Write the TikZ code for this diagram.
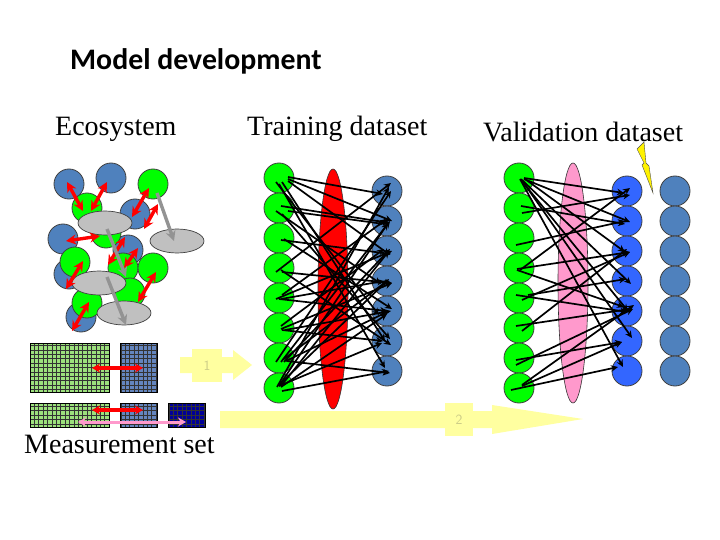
\documentclass[tikz,border=0pt]{standalone}
\usepackage{fontspec}
\setmainfont{Liberation Serif}
\newfontfamily\titlefont{Carlito}
\usetikzlibrary{arrows.meta,shapes.geometric}
\definecolor{cblue}{HTML}{4F81BD}
\definecolor{cgreen}{HTML}{00FF00}
\definecolor{cbright}{HTML}{3366FF}
\definecolor{cgray}{HTML}{C0C0C0}
\definecolor{cpink}{HTML}{FF99CC}
\definecolor{cyellow}{HTML}{FFFFA0}
\definecolor{gridgreen}{HTML}{9CE07C}
\definecolor{gridblue}{HTML}{6485BE}
\definecolor{gridnavy}{HTML}{000099}
\tikzset{
 ball/.style={circle,draw=black!75,line width=0.8pt,minimum size=30pt,inner sep=0pt},
 gball/.style={ball,fill=cgreen},
 bball/.style={ball,fill=cblue},
 hball/.style={ball,fill=cbright},
 disc/.style={ellipse,draw=black!75,line width=0.7pt,fill=cgray,minimum width=54pt,minimum height=24pt,inner sep=0pt},
 hidden/.style={ellipse,draw=black!80,line width=0.6pt,minimum width=30pt,minimum height=240pt,inner sep=0pt},
 redarrow/.style={red,line width=3.4pt,{Stealth[length=10pt,width=10pt]}-{Stealth[length=10pt,width=10pt]}},
 flatred/.style={red,line width=3.2pt,{Stealth[length=8pt,width=9pt]}-{Stealth[length=8pt,width=9pt]}},
 pinkarrow/.style={cpink,line width=3pt,{Stealth[length=8pt,width=9pt]}-{Stealth[length=8pt,width=9pt]}},
 grayarrow/.style={gray!85,line width=3.4pt,-{Stealth[length=10pt,width=10pt]}},
 conn/.style={black,line width=1.7pt,-{Stealth[length=7pt,width=6.5pt]}},
 gridbox/.style={draw=black,line width=1pt,inner sep=0pt,
   path picture={\draw[step=4.4pt,line width=0.55pt,black!80] (path picture bounding box.south west) grid (path picture bounding box.north east);}},
 lab/.style={anchor=base west,inner sep=0pt,font=\fontsize{28}{30}\selectfont},
 yel/.style={fill=cyellow,draw=none},
 yellab/.style={fill=cyellow,inner sep=0pt,text=black!15!cyellow!85!gray,font=\fontsize{14}{16}\selectfont\sffamily}
}
\begin{document}
\begin{tikzpicture}[x=1pt,y=-1pt]
\useasboundingbox (0,0) rectangle (720,540);
\fill[white] (0,0) rectangle (720,540);
% titles
\node[anchor=base west,inner sep=0pt,font=\titlefont\bfseries\fontsize{29.8}{32}\selectfont] (title) at (70,70) {Model development};
\node[lab] (eco) at (55,136) {Ecosystem};
\node[lab] (train) at (247,136) {Training dataset};
\node[lab] (valid) at (483,142) {Validation dataset};
\node[lab] (meas) at (24,453) {Measurement set};
% ecosystem
\foreach \n/\x/\y in {b1/69/184,b2/111/178,b3/135/214,b4/63/239,b5/128/250,b6/69/274,b7/81/317}
  \node[bball] (\n) at (\x,\y) {};
\foreach \n/\x/\y in {e1/153/184,e2/87/208,e3/106/233,e4/75/262,e5/123/268,e6/153/268,e7/130/293,e8/87/303}
  \node[gball] (\n) at (\x,\y) {};
\foreach \n/\x/\y in {c1/105/223,c2/177/241,c3/99/283,c4/124/313}
  \node[disc] (\n) at (\x,\y) {};
\foreach \a/\ax/\ay/\b/\bx/\by in {
  b1/-2/-2/e2/-4/3, b2/-4/4/e2/4/3, e1/-4/4/b3/-3/3, e1/5/20/b3/9/15,
  e3/-6/3/b4/3/2, e3/19/4/e5/-15/-3, b5/10/-2/e5/1/0, e4/8/-1/b6/-3/15,
  e6/3/4/e7/8/9, e8/2/-1/b7/-9/14}
  \draw[redarrow] ([shift={(\ax,\ay)}]\a.center) -- ([shift={(\bx,\by)}]\b.center);
\foreach \a/\ax/\ay/\b/\bx/\by in {e1/4/9/c2/-3/0, c1/2/6/e5/3/9, c3/8/-6/c4/2/12}
  \draw[grayarrow] ([shift={(\ax,\ay)}]\a.center) -- ([shift={(\bx,\by)}]\b.center);
% grids
\node[gridbox,fill=gridgreen,minimum width=79pt,minimum height=49pt] (m1) at (69.5,367.5) {};
\node[gridbox,fill=gridblue,minimum width=37pt,minimum height=49pt] (m2) at (138.5,367.5) {};
\node[gridbox,fill=gridgreen,minimum width=79pt,minimum height=24pt] (m3) at (69.5,415) {};
\node[gridbox,fill=gridblue,minimum width=37pt,minimum height=24pt] (m4) at (138.5,415) {};
\node[gridbox,fill=gridnavy,minimum width=37pt,minimum height=24pt] (m5) at (186.5,415) {};
\draw[flatred] ([shift={(22.5,0.5)}]m1.center) -- ([shift={(4.5,0.5)}]m2.center);
\draw[flatred] ([shift={(22.5,-5)}]m3.center) -- ([shift={(4.5,-5)}]m4.center);
\draw[pinkarrow] ([shift={(8.5,7)}]m3.center) -- ([shift={(-0.5,7)}]m5.center);
% yellow arrows
\fill[yel] (180,357) -- (233,357) -- (233,350) -- (252,365) -- (233,380) -- (233,373) -- (180,373) -- cycle;
\node[yellab,minimum width=30pt,minimum height=33pt] (y1) at (207,365.5) {1};
\fill[yel] (220,411) -- (492,411) -- (492,405) -- (583,419) -- (492,434) -- (492,428) -- (220,428) -- cycle;
\node[yellab,minimum width=28pt,minimum height=33pt] (y2) at (459,419.5) {2};
% networks: hidden layers, then nodes
\node[hidden,fill=red] (hred) at (333,289) {};
\node[hidden,fill=cpink] (hpink) at (573,283) {};
\foreach \i [evaluate=\i as \y using 178+30*(\i-1)] in {1,...,8} {
  \node[gball] (t\i) at (279,\y) {};
  \node[gball] (v\i) at (519,\y) {};
}
\foreach \i [evaluate=\i as \y using 191+30*(\i-1)] in {1,...,7} {
  \node[bball] (r\i) at (387,\y) {};
  \node[hball] (w\i) at (627,\y) {};
  \node[bball] (x\i) at (675,\y) {};
}
% training connectors
\foreach \a/\ax/\ay/\b/\bx/\by in {
 t1/9/-1/r1/-4/3, t1/9/1/r2/5/0, t1/9/3/r3/3/4, t1/-3/4/r5/-8/4, t1/3/4/r6/-2/0, t1/0/6/r7/-2/-3,
 t2/2/-2/r2/3/2, t2/9/3/r2/-3/3, t2/-3/3/r4/-6/3, t2/3/6/r6/3/-2,
 t3/2/2/r3/4/3, t3/5/1/r5/5/-2,
 t4/-3/4/r1/4/-8, t4/3/4/r4/5/2, t4/2/2/r6/4/4,
 t5/3/-3/r2/0/-2, t5/-3/1/r3/5/0, t5/2/1/r4/-3/0, t5/0/1/r5/0/0,
 t6/2/-2/r3/-3/-2, t6/2/1/r4/5/2, t6/3/2/r6/-4/0, t6/6/2/r5/4/0,
 t7/-3/4/r1/4/0, t7/2/4/r2/3/0, t7/5/4/r3/3/-2, t7/5/1/r4/0/0, t7/7/3/r5/0/1, t7/8/3/r7/3/2,
 t8/-2/-1/r1/2/-4, t8/0/-2/r2/1/2, t8/2/-2/r3/2/0, t8/0/-3/r4/2/-2, t8/2/-1/r5/0/3, t8/0/-2/r6/-5/2, t8/3/3/r7/2/0}
  \draw[conn] ([shift={(\ax,\ay)}]\a.center) -- ([shift={(\bx,\by)}]\b.center);
% validation connectors
\foreach \a/\ax/\ay/\b/\bx/\by in {
 v1/5/0/w1/-3/2, v1/5/1/w2/3/1, v1/6/1/w3/-2/1, v1/3/2/w4/4/3, v1/2/2/w5/1/0, v1/2/1/w6/5/-3, v1/1/1/w7/-4/-4,
 v2/2/-2/w2/-2/3, v2/3/5/w1/3/4,
 v3/-3/7/w2/-2/0,
 v4/-2/1/w3/3/1, v4/-2/2/w5/-3/-4, v4/1/2/w1/3/-3,
 v5/-3/-3/w5/0/1, v5/3/2/w3/3/1, v5/9/-3/w4/-1/-2,
 v6/-3/-2/w5/3/-2, v6/3/3/w3/0/-2,
 v7/-3/2/w6/-5/1, v7/-3/7/w5/6/-2,
 v8/3/-2/w6/-5/1, v8/3/-3/w5/7/-6, v8/-8/2/w7/-9/-4}
  \draw[conn] ([shift={(\ax,\ay)}]\a.center) -- ([shift={(\bx,\by)}]\b.center);
% lightning
\path[fill=yellow,draw=black!70,line width=0.4pt] (637,149) -- (644,142) -- (646,163) -- (649,166) -- (653,193) -- (642,165) -- (644,163) -- cycle;
\end{tikzpicture}
\end{document}
